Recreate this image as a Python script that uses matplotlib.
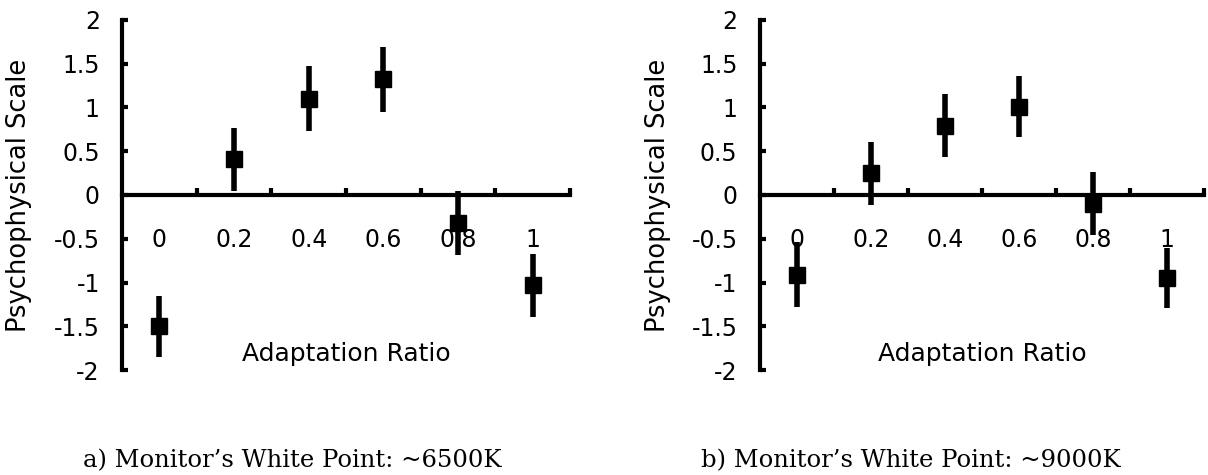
import numpy as np
import matplotlib.pyplot as plt

ratios = [0, 0.2, 0.4, 0.6, 0.8, 1]
ratio_labels = ['0', '0.2', '0.4', '0.6', '0.8', '1']

# psychophysical scale, monitor white ~6500K
scale_6500 = [-1.50, 0.41, 1.10, 1.32, -0.32, -1.03]
err_6500 = [0.35, 0.36, 0.37, 0.37, 0.37, 0.36]

# psychophysical scale, monitor white ~9000K
scale_9000 = [-0.91, 0.25, 0.79, 1.01, -0.10, -0.95]
err_9000 = [0.37, 0.36, 0.36, 0.35, 0.36, 0.34]

y_ticks = [-2, -1.5, -1, -0.5, 0, 0.5, 1, 1.5, 2]
y_labels = ['-2', '-1.5', '-1', '-0.5', '0', '0.5', '1', '1.5', '2']
x_ticks = [0.1, 0.3, 0.5, 0.7, 0.9, 1.1]

captions = ["a) Monitor\u2019s White Point: ~6500K", "b) Monitor\u2019s White Point: ~9000K"]

plt.rcParams['font.family'] = ['DejaVu Sans']

fig = plt.figure(figsize=(12.08, 4.75), dpi=100)
ax1 = fig.add_axes([0.101, 0.221, 0.371, 0.737])
ax2 = fig.add_axes([0.629, 0.221, 0.368, 0.737])


def draw_panel(ax, vals, errs):
    ax.errorbar(ratios, vals, yerr=errs, fmt='s', color='black', ms=11.5,
                elinewidth=4, capsize=0, zorder=5)
    ax.set_xlim(-0.1, 1.1)
    ax.set_ylim(-2, 2)
    for s in ['top', 'right']:
        ax.spines[s].set_visible(False)
    ax.spines['bottom'].set_position(('data', 0))
    ax.spines['bottom'].set_linewidth(3)
    ax.spines['left'].set_linewidth(3)
    ax.set_yticks(y_ticks)
    ax.set_yticklabels(y_labels)
    ax.tick_params(axis='y', direction='in', length=4, width=3, pad=16, labelsize=17)
    ax.set_xticks(x_ticks)
    ax.set_xticklabels([])
    ax.set_xticks(ratios, minor=True)
    ax.set_xticklabels(ratio_labels, minor=True)
    ax.tick_params(axis='x', which='major', direction='in', length=5, width=3)
    ax.tick_params(axis='x', which='minor', length=0, pad=24, labelsize=17)
    ax.set_ylabel('Psychophysical Scale', fontsize=18.5)
    ax.yaxis.set_label_coords(-0.2, 0.5)
    ax.text(0.5, -1.82, 'Adaptation Ratio', fontsize=18, ha='center', va='center')


draw_panel(ax1, scale_6500, err_6500)
draw_panel(ax2, scale_9000, err_9000)

fig.text(0.242, 0.03, captions[0], fontsize=17.5, ha='center', va='center',
         family=['DejaVu Serif'])
fig.text(0.754, 0.03, captions[1], fontsize=17.5, ha='center', va='center',
         family=['DejaVu Serif'])

fig.savefig('out.png', dpi=100)
